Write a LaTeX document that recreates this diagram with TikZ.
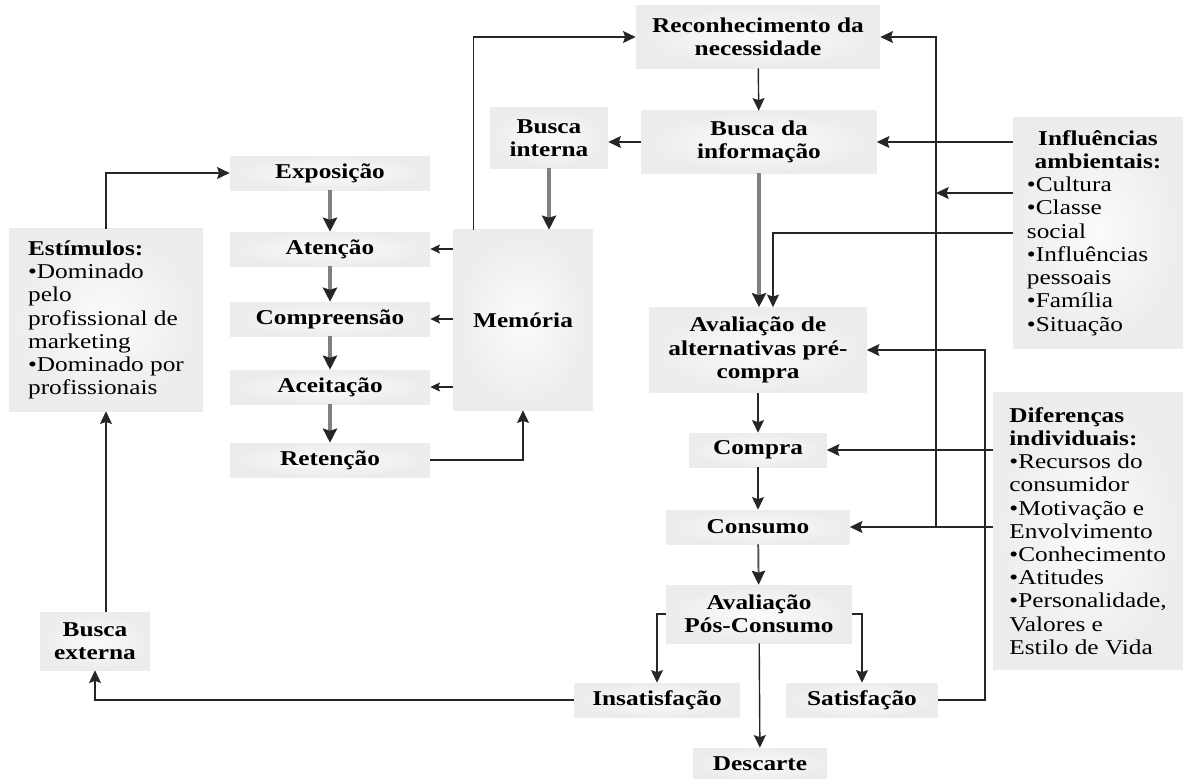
\documentclass[tikz,border=0pt]{standalone}
\usepackage{fontspec}
\setmainfont{Liberation Serif}[FakeStretch=1.2]
\usetikzlibrary{arrows.meta}

\begin{document}
\begin{tikzpicture}[x=0.025cm,y=-0.025cm,
  box/.style={shading=radial,inner color=gray!3,outer color=gray!15,inner sep=2pt,align=center,font=\fontsize{15}{16.5}\selectfont\bfseries},
  lst/.style={box,align=left,font=\fontsize{15}{16.5}\selectfont},
  arr/.style={draw=black!85,line width=1pt,-{Stealth[length=9pt,width=8.5pt,inset=1.5pt]}},
  sarr/.style={arr,-{Stealth[length=7pt,width=6.5pt,inset=1.5pt]}},
  marr/.style={draw=black!65,line width=1.4pt,-{Stealth[length=10pt,width=9.5pt,inset=1.5pt,color=black!85]}},
  garr/.style={draw=black!50,line width=2.2pt,-{Stealth[length=10pt,width=10pt,inset=1.5pt,color=black!85]}}]
\useasboundingbox (0,0) rectangle (1183,778);
\node[box,minimum width=6.1cm,minimum height=1.55cm] (rec) at (758,37) {Reconhecimento da\\necessidade};
\node[box,minimum width=5.875cm,minimum height=1.55cm] (bdi) at (759,142) {Busca da\\informação};
\node[box,minimum width=2.95cm,minimum height=1.5cm] (bint) at (549,138) {Busca\\interna};
\node[box,minimum width=5cm,minimum height=0.85cm] (expo) at (330,173) {Exposição};
\node[box,minimum width=5cm,minimum height=0.85cm] (aten) at (330,249) {Atenção};
\node[box,minimum width=5cm,minimum height=0.85cm] (comp) at (330,319) {Compreensão};
\node[box,minimum width=5cm,minimum height=0.85cm] (acei) at (330,387) {Aceitação};
\node[box,minimum width=5cm,minimum height=0.85cm] (rete) at (330,460) {Retenção};
\node[box,minimum width=3.475cm,minimum height=4.5cm] (mem) at (523,320) {Memória};
\node[lst,minimum width=4.85cm,minimum height=4.55cm] (estim) at (106,320) {\textbf{Estímulos:}\\•Dominado\\pelo\\profissional de\\marketing\\•Dominado por\\profissionais};
\node[box,minimum width=2.75cm,minimum height=1.45cm] (bext) at (95,641) {Busca\\externa};
\node[box,minimum width=5.425cm,minimum height=2.125cm] (aval) at (758,350) {Avaliação de\\alternativas pré-\\compra};
\node[box,minimum width=3.425cm,minimum height=0.85cm] (compra) at (758,450) {Compra};
\node[box,minimum width=4.575cm,minimum height=0.85cm] (cons) at (758,527) {Consumo};
\node[box,minimum width=4.65cm,minimum height=1.45cm] (pos) at (759,614) {Avaliação\\Pós-Consumo};
\node[box,minimum width=4.125cm,minimum height=0.85cm] (insat) at (657,700) {Insatisfação};
\node[box,minimum width=3.775cm,minimum height=0.85cm] (sat) at (862,700) {Satisfação};
\node[box,minimum width=3.35cm,minimum height=0.8cm] (desc) at (760,764) {Descarte};
\node[lst,text width=3.55cm,minimum width=4.25cm,minimum height=5.75cm] (infl) at (1098,233) {{\centering\bfseries Influências\\ambientais:\par}•Cultura\\•Classe\\social\\•Influências\\pessoais\\•Família\\•Situação};
\node[lst,minimum width=4.75cm,minimum height=6.925cm] (dif) at (1088,531) {\textbf{Diferenças}\\\textbf{individuais:}\\•Recursos do\\consumidor\\•Motivação e\\Envolvimento\\•Conhecimento\\•Atitudes\\•Personalidade,\\Valores e\\Estilo de Vida};
\coordinate (busl) at (936,0);
\coordinate (busr) at (985,0);
\coordinate (cult) at (1013,193);
\draw[arr] (rec) -- (bdi);
\draw[arr] (bdi.west) -- (bdi.west -| bint.east);
\draw[garr] (bint.south) -- (bint.south |- mem.north);
\draw[garr] (bdi.south) -- (bdi.south |- aval.north);
\draw[arr] ([xshift=0.5cm]mem.north west) |- (rec.west);
\foreach \n in {aten,comp,acei}
  \draw[sarr] (mem.west |- \n) -- (\n.east);
\draw[arr] (rete.east) -| (mem.south);
\foreach \a/\b in {expo/aten,aten/comp,comp/acei,acei/rete}
  \draw[garr] (\a) -- (\b);
\draw[arr] (estim.north) |- (expo.west);
\draw[arr] (bext.north -| estim.south) -- (estim.south);
\draw[arr] (insat.west) -| (bext.south);
\draw[arr] (aval) -- (compra);
\draw[arr] (compra) -- (cons);
\draw[marr] (cons) -- (pos);
\draw[arr] (pos.west) -| (insat.north);
\draw[arr] (pos.east) -| (sat.north);
\draw[arr] (pos) -- (desc);
\draw[arr] (dif.west |- compra) -- (compra.east);
\draw[arr] (dif.west |- cons) -- (cons.east);
\draw[arr] (busl |- cons) |- (rec.east);
\draw[arr] (infl.west |- bdi) -- (bdi.east);
\draw[arr] (cult) -- (cult -| busl);
\draw[arr] (infl.west) -| ([xshift=0.375cm]aval.north);
\draw[arr] (sat.east) -- (sat.east -| busr) |- (aval.east);
\end{tikzpicture}
\end{document}
